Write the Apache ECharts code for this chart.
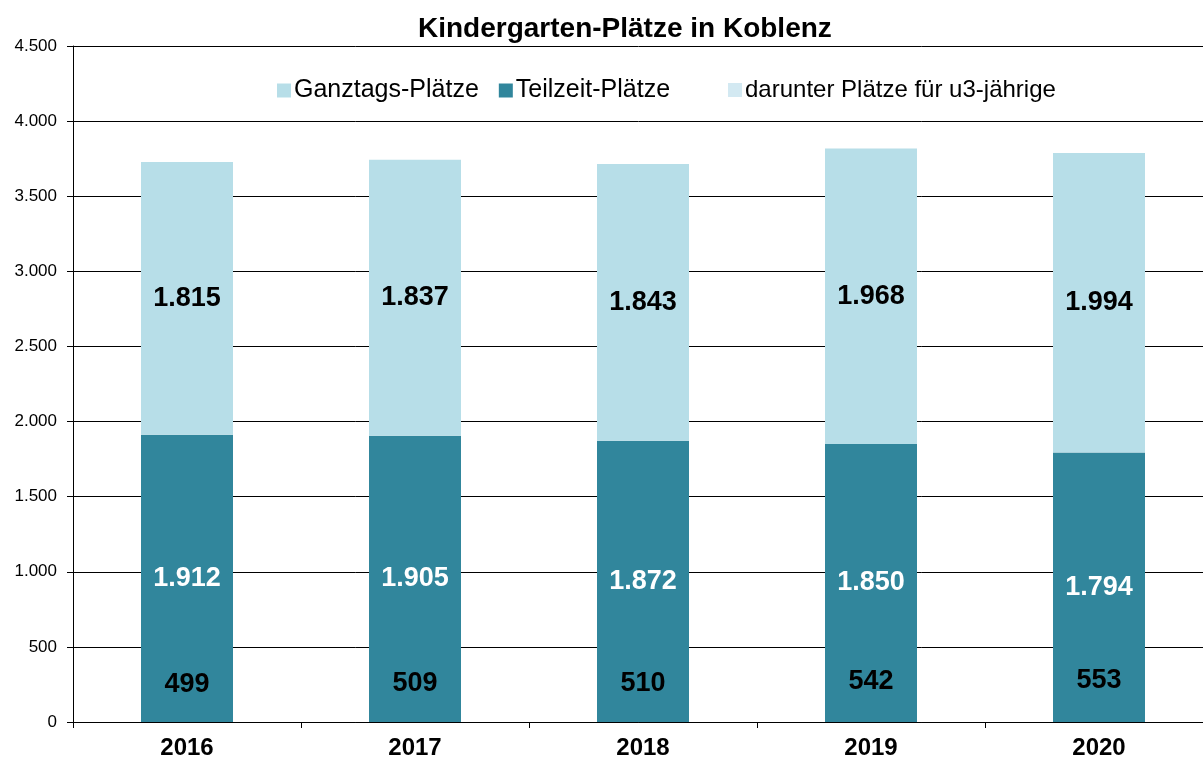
<!DOCTYPE html>
<html>
<head>
<meta charset="utf-8">
<script src="https://cdn.jsdelivr.net/npm/echarts@6/dist/echarts.min.js"></script>
<style>
  html, body { margin: 0; padding: 0; background: #fff; }
  #chart { width: 1203px; height: 765px; }
</style>
</head>
<body>
<div id="chart"></div>
<script>
const years = ['2016', '2017', '2018', '2019', '2020']
const ganztags = [1815, 1837, 1843, 1968, 1994]
const teilzeit = [1912, 1905, 1872, 1850, 1794]
const u3 = [499, 509, 510, 542, 553]

// deutsche Tausendertrennung
function fmt(v) {
  return String(v).replace(/\B(?=(\d{3})+(?!\d))/g, '.')
}

const chart = echarts.init(document.getElementById('chart'))

const labelBase = {
  show: true,
  position: 'inside',
  fontFamily: 'Liberation Sans',
  fontSize: 27,
  fontWeight: 'bold',
  formatter: p => fmt(p.value)
}

const legendBase = {
  top: 73,
  itemGap: 20,
  itemWidth: 14,
  itemHeight: 14,
  itemStyle: { borderWidth: 0 },
  textStyle: { fontSize: 25, color: '#000', padding: [0, 0, 0, -2] }
}

const option = {
  animation: false,
  textStyle: { fontFamily: 'Liberation Sans' },
  title: {
    text: 'Kindergarten-Plätze in Koblenz',
    left: 413,
    top: 10,
    textStyle: { fontSize: 28, fontWeight: 'bold', color: '#000' }
  },
  legend: [
    Object.assign({}, legendBase, {
      left: 272,
      data: [
        { name: 'Ganztags-Plätze', icon: 'rect' },
        { name: 'Teilzeit-Plätze', icon: 'rect' }
      ]
    }),
    Object.assign({}, legendBase, {
      left: 723,
      top: 73,
      textStyle: { fontSize: 24, color: '#000', padding: [0, 0, 2, -2] },
      data: [
        { name: 'darunter Plätze für u3-jährige', icon: 'rect', itemStyle: { color: '#d3e9f2' } }
      ]
    })
  ],
  grid: { left: 73, width: 1140, top: 46, bottom: 43, outerBoundsMode: 'none' },
  xAxis: {
    type: 'category',
    data: years,
    axisLine: { lineStyle: { color: '#000', width: 1 } },
    axisTick: { show: true, length: 6, lineStyle: { color: '#000' } },
    axisLabel: { fontSize: 24, fontWeight: 'bold', color: '#000', margin: 14 }
  },
  yAxis: {
    type: 'value',
    min: 0,
    max: 4500,
    interval: 500,
    axisLine: { show: true, lineStyle: { color: '#000' } },
    axisTick: { show: true, length: 6, inside: false, lineStyle: { color: '#000' } },
    axisLabel: { fontSize: 17, color: '#000', margin: 16, formatter: v => fmt(v) },
    splitLine: { lineStyle: { color: '#000', width: 1 } }
  },
  series: [
    {
      name: 'Teilzeit-Plätze',
      type: 'bar',
      stack: 'gesamt',
      barWidth: 92,
      data: teilzeit,
      itemStyle: { color: '#31869c' },
      label: Object.assign({}, labelBase, { color: '#fff' })
    },
    {
      name: 'Ganztags-Plätze',
      type: 'bar',
      stack: 'gesamt',
      barWidth: 92,
      data: ganztags,
      itemStyle: { color: '#b7dee8' },
      label: Object.assign({}, labelBase, { color: '#000' })
    },
    {
      name: 'darunter Plätze für u3-jährige',
      type: 'bar',
      barWidth: 92,
      barGap: '-100%',
      data: u3,
      itemStyle: { color: 'rgba(0,0,0,0)' },
      label: Object.assign({}, labelBase, { color: '#000' }),
      z: 3
    }
  ]
}

chart.setOption(option)
</script>
</body>
</html>
